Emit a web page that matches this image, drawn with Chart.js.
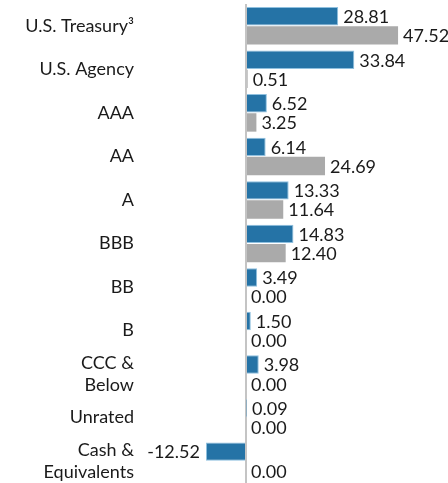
<!DOCTYPE html>
<html lang="en">
<head>
    <meta charset="UTF-8">
    <title>Credit Quality</title>
    <style>
        body {
            margin: 0;
            background: #fff;
        }
        #wrap {
            width: 448px;
            height: 483px;
        }
    </style>
    <script src="https://cdn.jsdelivr.net/npm/chart.js"></script>
</head>
<body>
    <div id="wrap"><canvas id="qualityChart"></canvas></div>

    <script>
        const categories = [
            'U.S. Treasury\u00B3', 'U.S. Agency', 'AAA', 'AA', 'A', 'BBB', 'BB', 'B',
            ['CCC &', 'Below'], 'Unrated', ['Cash &', 'Equivalents']
        ];
        const fundValues = [28.81, 33.84, 6.52, 6.14, 13.33, 14.83, 3.49, 1.50, 3.98, 0.09, -12.52];
        const benchmarkValues = [47.52, 0.51, 3.25, 24.69, 11.64, 12.40, 0.00, 0.00, 0.00, 0.00, 0.00];

        const fontFamily = 'Lato, "Open Sans", sans-serif';
        const fontSize = 18;

        // Draw the number next to each bar end
        const valueLabels = {
            id: 'valueLabels',
            afterDatasetsDraw(chart) {
                const ctx = chart.ctx;
                ctx.save();
                ctx.font = fontSize + 'px ' + fontFamily;
                ctx.fillStyle = '#1a1a1a';
                ctx.textBaseline = 'middle';
                chart.data.datasets.forEach((ds, i) => {
                    const meta = chart.getDatasetMeta(i);
                    meta.data.forEach((bar, j) => {
                        const v = ds.data[j];
                        const txt = v.toFixed(2);
                        if (v < 0) {
                            ctx.textAlign = 'right';
                            ctx.fillText(txt, bar.x - 6, bar.y + 1);
                        } else {
                            ctx.textAlign = 'left';
                            ctx.fillText(txt, Math.max(bar.x, bar.base) + 5, bar.y + 1);
                        }
                    });
                });
                ctx.restore();
            }
        };

        const ctx = document.getElementById('qualityChart').getContext('2d');
        const chart = new Chart(ctx, {
            type: 'bar',
            data: {
                labels: categories,
                datasets: [{
                    label: 'Fund',
                    data: fundValues,
                    backgroundColor: '#2573a6',
                    borderColor: '#8fc0df',
                    borderWidth: 1,
                    borderSkipped: 'start',
                    categoryPercentage: 0.88,
                    barPercentage: 0.96
                }, {
                    label: 'Benchmark',
                    data: benchmarkValues,
                    backgroundColor: '#aaaaaa',
                    borderWidth: 0,
                    categoryPercentage: 0.88,
                    barPercentage: 0.96
                }]
            },
            options: {
                indexAxis: 'y',
                responsive: true,
                maintainAspectRatio: false,
                animation: false,
                layout: { padding: { top: 4, right: 0, bottom: 0, left: 0 } },
                plugins: {
                    legend: { display: false },
                    tooltip: { enabled: false }
                },
                scales: {
                    x: {
                        min: -33.125,
                        max: 63.125,
                        afterBuildTicks: scale => { scale.ticks = [{ value: 0 }]; },
                        afterFit: scale => {
                            scale.height = 0;
                            scale.paddingLeft = 0;
                            scale.paddingRight = 0;
                        },
                        ticks: { display: false },
                        border: { display: false },
                        grid: {
                            drawTicks: false,
                            color: '#c4c4c4',
                            lineWidth: 2
                        }
                    },
                    y: {
                        afterFit: scale => {
                            scale.width = 140;
                            scale.paddingTop = 0;
                            scale.paddingBottom = 0;
                        },
                        border: { display: false },
                        grid: { display: false, drawTicks: false },
                        ticks: {
                            autoSkip: false,
                            padding: 6,
                            color: '#1a1a1a',
                            font: { family: fontFamily, size: fontSize, lineHeight: 1.22 }
                        }
                    }
                }
            },
            plugins: [valueLabels]
        });
    </script>
</body>
</html>
